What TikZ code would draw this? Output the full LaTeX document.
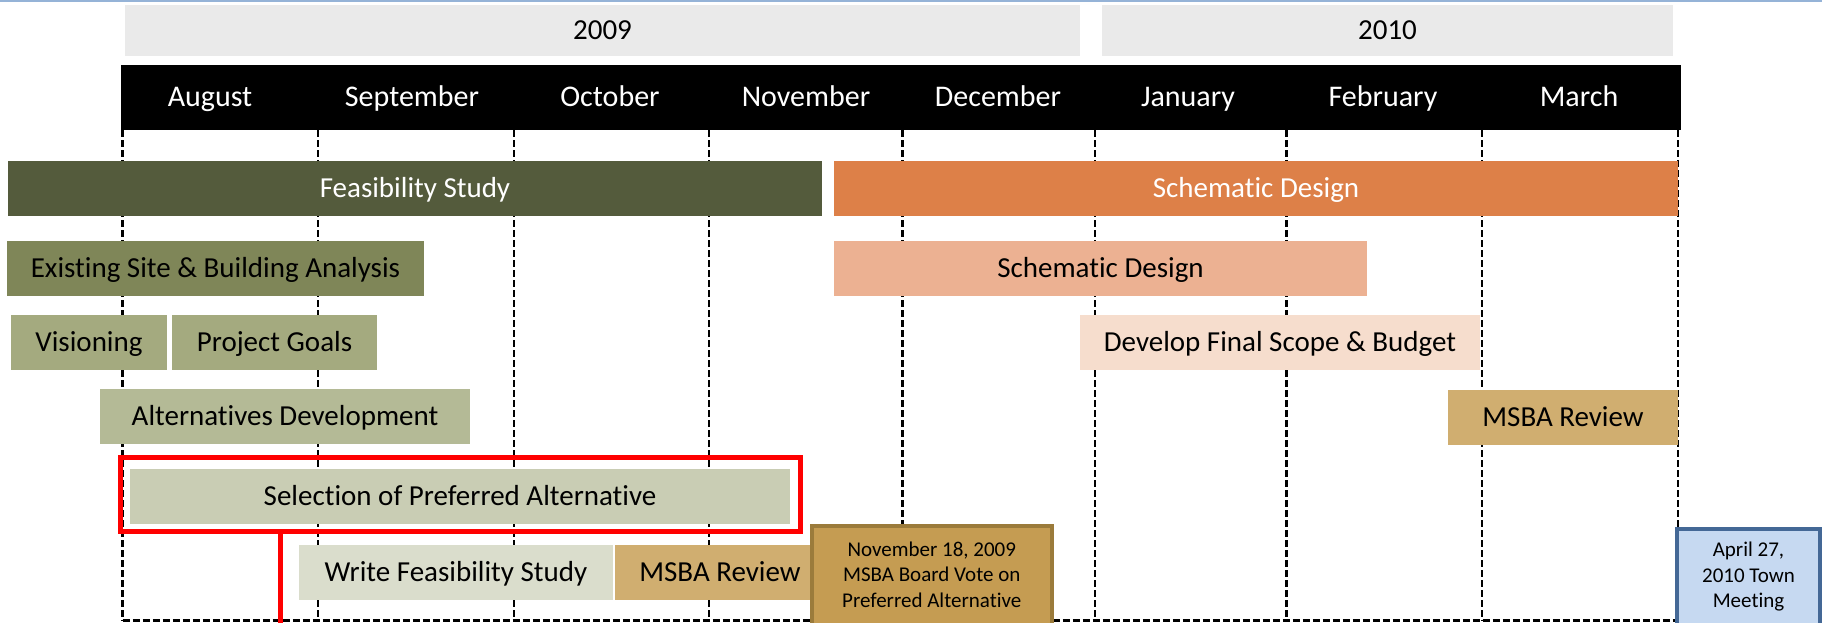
\documentclass[tikz,border=0pt]{standalone}
\usepackage{fontspec}
\setmainfont{Carlito}[Ligatures=NoCommon]
\definecolor{topline}{RGB}{149,179,215}
\definecolor{yeargray}{RGB}{234,234,234}
\definecolor{feas}{RGB}{84,91,60}
\definecolor{exist}{RGB}{127,134,88}
\definecolor{vision}{RGB}{164,170,127}
\definecolor{alter}{RGB}{180,186,150}
\definecolor{select}{RGB}{201,205,180}
\definecolor{writefs}{RGB}{218,221,204}
\definecolor{msba}{RGB}{208,174,112}
\definecolor{novfill}{RGB}{197,156,82}
\definecolor{novborder}{RGB}{155,123,59}
\definecolor{orangesd}{RGB}{221,128,72}
\definecolor{lightsd}{RGB}{236,177,146}
\definecolor{develop}{RGB}{246,221,205}
\definecolor{aprfill}{RGB}{198,217,241}
\definecolor{aprborder}{RGB}{68,104,150}
\tikzset{
  bar/.style={rectangle, inner sep=0pt, outer sep=0pt, minimum height=55pt,
    font=\fontsize{29}{35}\selectfont, text=black, text height=18.6pt, text depth=0pt},
  yearbar/.style={rectangle, inner sep=0pt, outer sep=0pt, fill=yeargray, minimum height=51pt,
    font=\fontsize{29}{35}\selectfont, text=black, text height=18.6pt, text depth=0pt},
  monthtext/.style={inner sep=0pt, font=\fontsize{30}{36}\selectfont, text=white,
    text height=19.2pt, text depth=0pt},
  gridline/.style={line width=2.5pt, dash pattern=on 7pt off 3pt, black},
  milestone/.style={rectangle, inner sep=0pt, outer sep=0pt, line width=4pt, anchor=north west},
  notetext/.style={inner sep=0pt, align=center, font=\fontsize{21}{25.5}\selectfont, text=black},
}
\begin{document}
\begin{tikzpicture}[x=1pt, y=-1pt]
\clip (0,0) rectangle (1822,623);
\fill[white] (0,0) rectangle (1822,623);
% top rule
\fill[topline] (0,0) rectangle (1822,2.5);
% years
\node[yearbar, minimum width=955pt] (y2009) at (602.5,30.5) {2009};
\node[yearbar, minimum width=571pt] (y2010) at (1387.5,30.5) {2010};
% month bar
\node[rectangle, fill=black, inner sep=0pt, minimum width=1560pt, minimum height=65pt] (monthbar) at (901,97.5) {};
\node[monthtext] (aug) at (210,97) {August};
\node[monthtext] (sep) at (412,97) {September};
\node[monthtext] (oct) at (610,97) {October};
\node[monthtext] (nov) at (806,97) {November};
\node[monthtext] (dec) at (998,97) {December};
\node[monthtext] (jan) at (1188,97) {January};
\node[monthtext] (feb) at (1383,97) {February};
\node[monthtext] (mar) at (1579,97) {March};
% grid
\foreach \gx in {122.5,318,514,709,902.5,1095,1286.5,1482,1678}{
  \draw[gridline] (\gx,130) -- (\gx,620.5);
}
\draw[gridline] (122.5,620.5) -- (1678,620.5);
% feasibility study tasks
\node[bar, fill=feas, text=white, minimum width=814pt] (feasibility) at (415,188.5) {Feasibility Study};
\node[bar, fill=exist, minimum width=417pt] (existing) at (215.5,268.5) {Existing Site \& Building Analysis};
\node[bar, fill=vision, minimum width=156pt] (visioning) at (89,342.5) {Visioning};
\node[bar, fill=vision, minimum width=205pt] (goals) at (274.5,342.5) {Project Goals};
\node[bar, fill=alter, minimum width=370pt] (alternatives) at (285,416.5) {Alternatives Development};
\node[bar, fill=select, minimum width=660pt] (selection) at (460,496.5) {Selection of Preferred Alternative};
\node[bar, fill=writefs, minimum width=314pt] (writefs) at (456,572.5) {Write Feasibility Study};
\node[bar, fill=msba, minimum width=207pt] (msbaleft) at (718.5,572.5) {\hspace*{3pt}MSBA Review};
% schematic design tasks
\node[bar, fill=orangesd, text=white, minimum width=844pt] (schematic) at (1256,188.5) {Schematic Design};
\node[bar, fill=lightsd, minimum width=533pt] (sdlight) at (1100.5,268.5) {Schematic Design};
\node[bar, fill=develop, minimum width=400pt] (develop) at (1280,342.5) {Develop Final Scope \& Budget};
\node[bar, fill=msba, minimum width=230pt] (msbaright) at (1563,417.5) {MSBA Review};
% highlight
\node[rectangle, draw=red, line width=5pt, inner sep=0pt, outer sep=0pt,
  minimum width=680.5pt, minimum height=74pt] (redbox) at (460.25,494.5) {};
\coordinate (redend) at (280.5,640);
\draw[red, line width=5.5pt] (redbox.south -| redend) -- (redend);
% milestones
\node[milestone, draw=novborder, fill=novfill, minimum width=240.5pt, minimum height=120pt] (novbox) at (811.5,526) {};
\node[notetext] (novtext) at (931.75,574.5) {November 18, 2009\\MSBA Board Vote on\\Preferred Alternative};
\node[milestone, draw=aprborder, fill=aprfill, minimum width=143pt, minimum height=120pt] (aprbox) at (1677,529) {};
\node[notetext] (aprtext) at (1748.5,577) {April 27,\\2010 Town\\Meeting};
\end{tikzpicture}
\end{document}
